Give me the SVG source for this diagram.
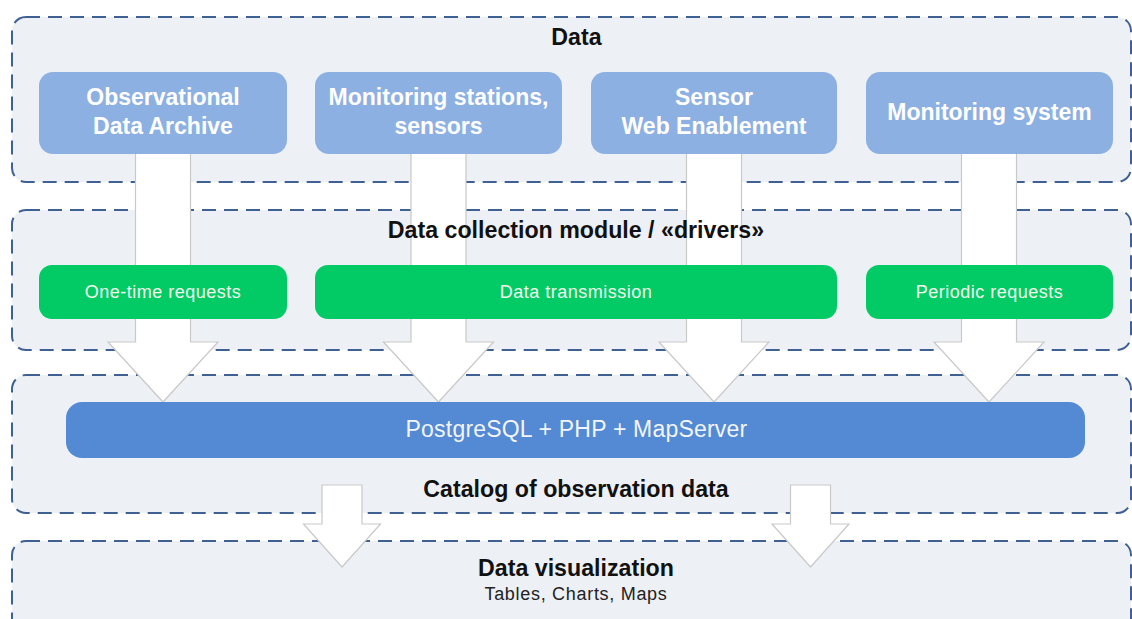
<svg xmlns="http://www.w3.org/2000/svg" width="1132" height="619" viewBox="0 0 1132 619">
<style>
.bg{fill:#ffffff}
.lane{fill:#EDF0F5;stroke:#3E6092;stroke-width:2;stroke-dasharray:14 8}
.src{fill:#8DB0E3}
.grn{fill:#02CB65}
.bar{fill:#5489D4}
.arr{fill:#ffffff;stroke:#C9C9C9;stroke-width:1.2;stroke-linejoin:miter}
.t{font-family:"Liberation Sans",Arial,sans-serif;text-anchor:middle}
.title{font-size:23.2px;font-weight:bold;fill:#111111}
.srct{font-size:23px;font-weight:bold;fill:#ffffff}
.grnt{font-size:18px;fill:#F4FAEC;letter-spacing:0.5px}
.bart{font-size:23px;fill:#F2F6FC;letter-spacing:0.2px}
.sub{font-size:18px;fill:#222222;letter-spacing:0.7px}
</style>
<rect class="bg" x="0" y="0" width="1132" height="619"/>
<g id="lane-data"><rect class="lane" x="12" y="17" width="1119" height="165" rx="14"/></g>
<g id="lane-collection"><rect class="lane" x="12" y="210" width="1119" height="140" rx="14"/></g>
<g id="lane-catalog"><rect class="lane" x="12" y="375" width="1119" height="138" rx="14"/></g>
<g id="lane-vis"><rect class="lane" x="12" y="541" width="1119" height="95" rx="14"/></g>
<g id="connectors">
<polygon class="arr" points="135.5,150 190.5,150 190.5,342 218,342 163,402 108,342 135.5,342"/>
<polygon class="arr" points="411,150 466,150 466,342 493.5,342 438.5,402 383.5,342 411,342"/>
<polygon class="arr" points="686.5,150 741.5,150 741.5,342 769,342 714,402 659,342 686.5,342"/>
<polygon class="arr" points="961.5,150 1016.5,150 1016.5,342 1044,342 989,402 934,342 961.5,342"/>
<polygon class="arr" points="322,485 362,485 362,524 380.5,524 342,567 303.5,524 322,524"/>
<polygon class="arr" points="790.5,485 830.5,485 830.5,524 849,524 810.5,567 772,524 790.5,524"/>
</g>
<g id="title-data"><text class="t title" x="576.5" y="45">Data</text></g>
<g id="title-collection"><text class="t title" x="576" y="238">Data collection module / «drivers»</text></g>
<g id="title-catalog"><text class="t title" x="576" y="497">Catalog of observation data</text></g>
<g id="title-vis"><text class="t title" x="576" y="576">Data visualization</text><text class="t sub" x="576" y="600">Tables, Charts, Maps</text></g>
<g id="src-archive"><rect class="src" x="39" y="72" width="248" height="82" rx="14"/><text class="t srct" x="163" y="105">Observational</text><text class="t srct" x="163" y="134">Data Archive</text></g>
<g id="src-stations"><rect class="src" x="315" y="72" width="247" height="82" rx="14"/><text class="t srct" x="438.5" y="105">Monitoring stations,</text><text class="t srct" x="438.5" y="134">sensors</text></g>
<g id="src-swe"><rect class="src" x="591" y="72" width="246" height="82" rx="14"/><text class="t srct" x="714" y="105">Sensor</text><text class="t srct" x="714" y="134">Web Enablement</text></g>
<g id="src-monitoring"><rect class="src" x="866" y="72" width="247" height="82" rx="14"/><text class="t srct" x="989.5" y="120">Monitoring system</text></g>
<g id="drv-onetime"><rect class="grn" x="39" y="265" width="248" height="54" rx="13"/><text class="t grnt" x="163" y="298">One-time requests</text></g>
<g id="drv-transmission"><rect class="grn" x="315" y="265" width="522" height="54" rx="13"/><text class="t grnt" x="576" y="298">Data transmission</text></g>
<g id="drv-periodic"><rect class="grn" x="866" y="265" width="247" height="54" rx="13"/><text class="t grnt" x="989.5" y="298">Periodic requests</text></g>
<g id="catalog-bar"><rect class="bar" x="66" y="402" width="1019" height="56" rx="16"/><text class="t bart" x="576.5" y="437">PostgreSQL + PHP + MapServer</text></g>
</svg>
